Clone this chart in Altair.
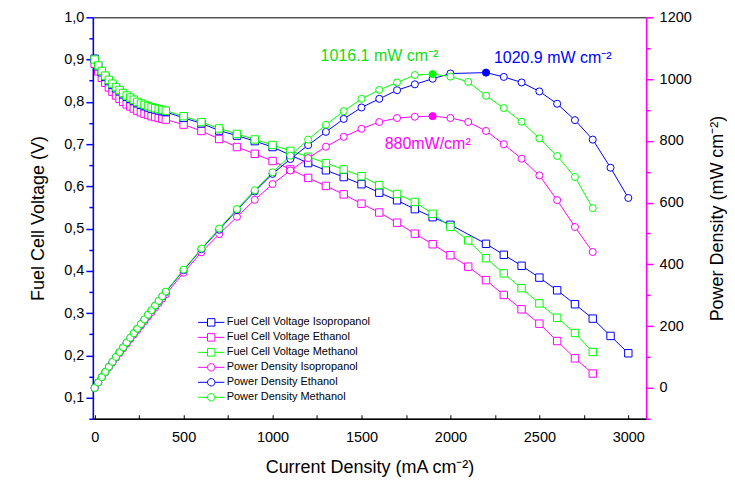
import altair as alt
import pandas as pd

BLUE = "#0000FF"
MAGENTA = "#FF00FF"
GREEN = "#00FF00"
GREEN_TEXT = "#11DD11"

# ---------------- data ----------------
current_dense = [0, 20, 40, 60, 80, 100, 120, 140, 160, 180, 200, 220, 240, 260,
                 280, 300, 320, 340, 360, 380, 400]
current_main = [500, 600, 700, 800, 900, 1000, 1100, 1200, 1300, 1400, 1500, 1600,
                1700, 1800, 1900, 2000, 2100, 2200, 2300, 2400, 2500, 2600, 2700, 2800]
current_blue = [500, 600, 700, 800, 900, 1000, 1100, 1200, 1300, 1400, 1500, 1600,
                1700, 1800, 1900, 2000, 2200, 2300, 2400, 2500, 2600, 2700, 2800, 2900, 3000]

# Voltage (V)
volt_blue_dense = [0.902, 0.884, 0.870, 0.859, 0.849, 0.840, 0.832, 0.825, 0.818, 0.812,
                   0.807, 0.802, 0.797, 0.793, 0.790, 0.787, 0.784, 0.782, 0.780, 0.778, 0.776]
volt_blue_main = [0.762, 0.749, 0.732, 0.720, 0.707, 0.693, 0.674, 0.655, 0.638, 0.622,
                  0.605, 0.585, 0.567, 0.546, 0.527, 0.509, 0.464, 0.438, 0.412, 0.384,
                  0.354, 0.321, 0.287, 0.246, 0.205]
volt_pink_dense = [0.890, 0.872, 0.857, 0.845, 0.834, 0.824, 0.815, 0.807, 0.800, 0.794,
                   0.789, 0.784, 0.779, 0.775, 0.772, 0.769, 0.766, 0.764, 0.762, 0.760, 0.758]
volt_pink_main = [0.746, 0.731, 0.712, 0.693, 0.677, 0.660, 0.640, 0.620, 0.601, 0.581,
                  0.559, 0.538, 0.514, 0.488, 0.463, 0.437, 0.410, 0.378, 0.343, 0.309,
                  0.275, 0.234, 0.193, 0.157]
volt_green_dense = [0.900, 0.886, 0.873, 0.862, 0.852, 0.843, 0.835, 0.828, 0.821, 0.815,
                    0.810, 0.805, 0.800, 0.796, 0.793, 0.790, 0.787, 0.785, 0.783, 0.781, 0.779]
volt_green_main = [0.766, 0.752, 0.737, 0.724, 0.711, 0.698, 0.684, 0.670, 0.655, 0.640,
                   0.624, 0.603, 0.582, 0.563, 0.535, 0.504, 0.472, 0.430, 0.394, 0.359,
                   0.323, 0.289, 0.253, 0.208]

# Power density (mW cm-2)
pow_blue_dense = [0, 17.7, 34.8, 51.5, 67.9, 84.0, 99.8, 115.5, 130.9, 146.2, 161.4,
                  176.4, 191.3, 206.2, 221.2, 236.1, 250.9, 265.9, 280.8, 295.6, 310.4]
pow_blue_main = [381, 449, 512, 576, 636, 693, 741, 786, 829, 871, 908, 936, 964, 983,
                 1001, 1018, 1020.9, 1007, 989, 960, 920, 867, 804, 713, 615]
pow_pink_dense = [0, 17.4, 34.3, 50.7, 66.7, 82.4, 97.8, 113.0, 128.0, 142.9, 157.8,
                  172.5, 187.0, 201.5, 216.2, 230.7, 245.1, 259.8, 274.3, 288.8, 303.2]
pow_pink_main = [373, 439, 498, 554, 609, 660, 704, 744, 781, 813, 839, 861, 874, 878,
                 880, 874, 861, 832, 789, 742, 688, 608, 521, 440]
pow_green_dense = [0, 17.7, 34.9, 51.7, 68.2, 84.3, 100.2, 115.9, 131.4, 146.7, 162.0,
                   177.1, 192.0, 207.0, 222.0, 237.0, 251.8, 266.9, 281.9, 296.8, 311.6]
pow_green_main = [383, 451, 516, 579, 640, 698, 752, 804, 852, 896, 936, 965, 989, 1013,
                  1016.1, 1008, 991, 946, 906, 862, 808, 751, 683, 582]

series_labels = ["Fuel Cell Voltage Isopropanol", "Fuel Cell Voltage Ethanol",
                 "Fuel Cell Voltage Methanol", "Power Density Isopropanol",
                 "Power Density Ethanol", "Power Density Methanol"]
series_colors = [BLUE, MAGENTA, GREEN, MAGENTA, BLUE, GREEN]

peak_current = [1900, 2200, 1900]
peak_power = [1016.1, 1020.9, 880]
peak_colors = [GREEN, BLUE, MAGENTA]

annot_text = ["1016.1 mW cm\u207b\u00b2", "1020.9 mW cm\u207b\u00b2", "880mW/cm\u00b2"]
annot_current = [1601, 2575, 1872]
annot_power = [1074, 1068, 789]
annot_colors = [GREEN_TEXT, BLUE, MAGENTA]

volt_ticks = [round(0.05 * k, 2) for k in range(1, 21)]
power_ticks = list(range(-100, 1201, 100))
x_label_ticks = [0, 500, 1000, 1500, 2000, 2500, 3000]
x_minor_ticks = list(range(0, 3001, 250))

# ---------------- tables ----------------
def rows(label, cur, vals, col):
    return [{"current": c, col: v, "series": label} for c, v in zip(cur, vals)]

volt_rows = (rows(series_labels[1], current_dense + current_main, volt_pink_dense + volt_pink_main, "V")
             + rows(series_labels[0], current_dense + current_blue, volt_blue_dense + volt_blue_main, "V")
             + rows(series_labels[2], current_dense + current_main, volt_green_dense + volt_green_main, "V"))
pow_rows = (rows(series_labels[3], current_dense + current_main, pow_pink_dense + pow_pink_main, "P")
            + rows(series_labels[4], current_dense + current_blue, pow_blue_dense + pow_blue_main, "P")
            + rows(series_labels[5], current_dense + current_main, pow_green_dense + pow_green_main, "P"))
volt_df = pd.DataFrame(volt_rows)
pow_df = pd.DataFrame(pow_rows)

SQ = "M-2.2,0L-0.62,0M0.62,0L2.2,0M-0.62,-0.62L0.62,-0.62L0.62,0.62L-0.62,0.62Z"
CI = "M-2.2,0L-0.62,0M0.62,0L2.2,0M-0.62,0A0.62 0.62 0 1 1 0.62,0A0.62 0.62 0 1 1 -0.62,0Z"
legend_shapes = [SQ, SQ, SQ, CI, CI, CI]

# ---------------- scales / axes ----------------
x_scale = alt.Scale(domain=[-10, 3100], nice=False, zero=False)
v_scale = alt.Scale(domain=[0.05, 1.0], nice=False, zero=False)
p_scale = alt.Scale(domain=[-100, 1200], nice=False, zero=False)
color_scale = alt.Scale(domain=series_labels, range=series_colors)
shape_scale = alt.Scale(domain=series_labels, range=legend_shapes)

legend = alt.Legend(title=None, orient="none", legendX=112, legendY=299, symbolSize=144,
                    symbolStrokeWidth=1, labelFontSize=11, labelOffset=9, rowPadding=2,
                    padding=0, labelLimit=0, symbolOpacity=1, symbolFillColor="white")

x_axis = alt.Axis(orient="bottom", values=x_label_ticks, format="d", ticks=False,
                  domainColor="black", domainWidth=1.5, labelFontSize=14.5, labelPadding=12,
                  labelColor="black", title="Current Density (mA cm\u207b\u00b2)",
                  titleFontSize=18, titleFontWeight="normal", titlePadding=14,
                  titleColor="black", grid=False)

v_axis = alt.Axis(orient="left", values=volt_ticks,
                  labelExpr="round(datum.value*100) % 10 === 0 ? replace(format(datum.value, '.1f'), '.', ',') : ''",
                  tickSize={"condition": {"test": "round(datum.value*100) % 10 === 0", "value": 7}, "value": 4},
                  domainColor=BLUE, domainWidth=1.5, tickColor=BLUE, tickWidth=1.5,
                  labelColor="black", labelFontSize=14.5, labelPadding=2,
                  title="Fuel Cell Voltage (V)", titleFontSize=18, titleFontWeight="normal",
                  titlePadding=16, titleColor="black", grid=False)

p_axis = alt.Axis(orient="right", values=power_ticks, format="d",
                  labelExpr="datum.value % 200 === 0 ? datum.label : ''",
                  tickSize={"condition": {"test": "datum.value % 200 === 0", "value": 7}, "value": 4},
                  domainColor=MAGENTA, domainWidth=1.5, tickColor=MAGENTA, tickWidth=1.5,
                  labelColor="black", labelFontSize=14.5, labelPadding=6,
                  title="Power Density (mW cm\u207b\u00b2)", titleFontSize=18,
                  titleFontWeight="normal", titleAngle=270, titleBaseline="top",
                  titlePadding=17, titleColor="black", grid=False)

# ---------------- voltage layer ----------------
vx = alt.X("current:Q", scale=x_scale, axis=x_axis)
vy = alt.Y("V:Q", scale=v_scale, axis=v_axis)
vcolor = alt.Color("series:N", scale=color_scale, legend=legend)

v_lines = alt.Chart(volt_df).mark_line(strokeWidth=1).encode(x=vx, y=vy, color=vcolor)
v_points = alt.Chart(volt_df).mark_point(shape="square", size=55, filled=False, fill="white",
                                         fillOpacity=1, strokeWidth=1, opacity=1).encode(
    x=vx, y=vy, color=vcolor)
volt_layer = alt.layer(v_lines, v_points)

# ---------------- power layer ----------------
px = alt.X("current:Q", scale=x_scale, axis=None)
py = alt.Y("P:Q", scale=p_scale, axis=p_axis)

p_lines = alt.Chart(pow_df).mark_line(strokeWidth=1).encode(x=px, y=py, color=vcolor)
p_points = alt.Chart(pow_df).mark_point(shape="circle", size=50, filled=False, fill="white",
                                        fillOpacity=1, strokeWidth=1, opacity=1).encode(
    x=px, y=py, color=vcolor)
legend_carrier = alt.Chart(pow_df).mark_point(opacity=0).encode(
    x=px, y=py, color=vcolor, shape=alt.Shape("series:N", scale=shape_scale, legend=legend))

peaks = []
for c, p, col in zip(peak_current, peak_power, peak_colors):
    d = pd.DataFrame({"current": [c], "P": [p]})
    peaks.append(alt.Chart(d).mark_point(shape="circle", size=55, filled=True, opacity=1,
                                         color=col).encode(x=px, y=py))
texts = []
for t, c, p, col in zip(annot_text, annot_current, annot_power, annot_colors):
    d = pd.DataFrame({"current": [c], "P": [p], "label": [t]})
    texts.append(alt.Chart(d).mark_text(fontSize=16, color=col, align="center",
                                        baseline="middle").encode(x=px, y=py, text="label:N"))

power_layer = alt.layer(p_lines, p_points, legend_carrier, *peaks, *texts)

# ---------------- inward ticks on the bottom axis ----------------
tick_axis = alt.Axis(orient="top", offset=-402, values=x_minor_ticks, labels=False, domain=False,
                     ticks=True, tickSize=4, tickColor="black", tickWidth=1, title=None, grid=False)
tick_layer = alt.Chart(volt_df).mark_point(opacity=0).encode(
    x=alt.X("current:Q", scale=x_scale, axis=tick_axis))

chart = (
    alt.layer(volt_layer, power_layer, tick_layer)
    .resolve_scale(y="independent")
    .resolve_axis(x="independent")
    .properties(width=554, height=402,
                padding={"left": 21, "top": 1, "right": 0, "bottom": 5})
    .configure(font="Liberation Sans", background="white")
    .configure_view(stroke="black", strokeWidth=1)
)

chart.save("out.html", embed_options={"renderer": "svg", "actions": False})
